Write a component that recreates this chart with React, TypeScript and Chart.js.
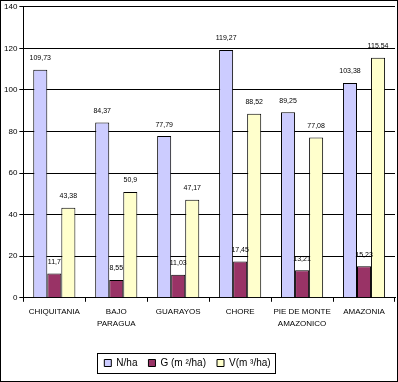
import React, { useEffect, useRef } from "react";
import { Chart, registerables } from "chart.js";

Chart.register(...registerables);

const categories: (string | string[])[] = [
  "CHIQUITANIA",
  ["BAJO", "PARAGUA"],
  "GUARAYOS",
  "CHORE",
  ["PIE DE MONTE", "AMAZONICO"],
  "AMAZONIA",
];
const nHa = [109.73, 84.37, 77.79, 119.27, 89.25, 103.38];
const gHa = [11.7, 8.55, 11.03, 17.45, 13.21, 15.23];
const vHa = [43.38, 50.9, 47.17, 88.52, 77.08, 115.54];
const yTicks = [0, 20, 40, 60, 80, 100, 120, 140];
const seriesNames = ["N/ha", "G (m ²/ha)", "V(m ³/ha)"];

const FONT = "'Liberation Sans', Arial, sans-serif";
const LEGEND_SHIFT = -11;

const labelPlugin = {
  id: "valueLabels",
  afterLayout(chart: any) {
    const lg = chart.legend;
    if (lg) {
      lg.left += LEGEND_SHIFT;
      lg.right += LEGEND_SHIFT;
    }
  },
  afterDatasetsDraw(chart: any) {
    const ctx = chart.ctx;
    ctx.save();
    ctx.font = `7px ${FONT}`;
    ctx.fillStyle = "#000";
    ctx.textAlign = "center";
    ctx.textBaseline = "bottom";
    chart.data.datasets.forEach((ds: any, i: number) => {
      const meta = chart.getDatasetMeta(i);
      meta.data.forEach((el: any, j: number) => {
        const txt = String(ds.data[j]).replace(".", ",");
        ctx.fillText(txt, el.x, el.y - 8);
      });
    });
    ctx.restore();
  },
};

const framePlugin = {
  id: "frame",
  afterDraw(chart: any) {
    const ctx = chart.ctx;
    ctx.save();
    ctx.strokeStyle = "#000";
    ctx.lineWidth = 1;
    ctx.strokeRect(0.5, 0.5, chart.width - 1, chart.height - 1);
    const lg = chart.legend;
    if (lg) {
      const items = lg.legendHitBoxes;
      if (items && items.length) {
        const l = Math.min(...items.map((b: any) => b.left)) - 7;
        const r = Math.max(...items.map((b: any) => b.left + b.width)) + 5;
        const cy = items[0].top + items[0].height / 2;
        ctx.strokeRect(Math.round(l) + 0.5, Math.round(cy - 10) + 0.5, Math.round(r - l), 20);
      }
    }
    ctx.restore();
  },
};

export default function App() {
  const ref = useRef<HTMLCanvasElement | null>(null);
  useEffect(() => {
    if (!ref.current) return;
    const chart = new Chart(ref.current, {
      type: "bar",
      data: {
        labels: categories,
        datasets: [
          { label: seriesNames[0], data: nHa, backgroundColor: "#CCCCFF", borderColor: "#000", borderWidth: 1 },
          { label: seriesNames[1], data: gHa, backgroundColor: "#993366", borderColor: "#000", borderWidth: 1 },
          { label: seriesNames[2], data: vHa, backgroundColor: "#FFFFCC", borderColor: "#000", borderWidth: 1 },
        ],
      },
      options: {
        responsive: false,
        animation: false,
        devicePixelRatio: 1,
        layout: { padding: { left: 2, right: 3, top: -2, bottom: 4 } },
        datasets: { bar: { categoryPercentage: 0.68, barPercentage: 1 } },
        plugins: {
          legend: {
            position: "bottom",
            title: { display: true, text: " ", font: { size: 1 }, padding: { top: 12, bottom: 0 } },
            labels: {
              font: { family: FONT, size: 10 },
              color: "#000",
              boxWidth: 7,
              boxHeight: 7,
              padding: 11,
            },
          },
          tooltip: { enabled: false },
        },
        scales: {
          x: {
            grid: { display: true, drawOnChartArea: false, drawTicks: true, tickLength: 4, color: "#000", offset: true },
            border: { color: "#000" },
            ticks: {
              font: { family: FONT, size: 8, lineHeight: 1.5 },
              color: "#000",
              maxRotation: 0,
              autoSkip: false,
              padding: 4,
            },
          },
          y: {
            min: 0,
            max: 140,
            afterBuildTicks: (axis: any) => {
              axis.ticks = yTicks.map((v) => ({ value: v }));
            },
            grid: { color: "#000", tickLength: 4 },
            border: { color: "#000" },
            ticks: { font: { family: FONT, size: 8 }, color: "#000", padding: 2 },
          },
        },
      },
      plugins: [labelPlugin, framePlugin],
    });
    return () => chart.destroy();
  }, []);
  return (
    <div style={{ position: "fixed", left: 0, top: 0, width: 398, height: 382, background: "#fff" }}>
      <canvas ref={ref} width={398} height={382} />
    </div>
  );
}
